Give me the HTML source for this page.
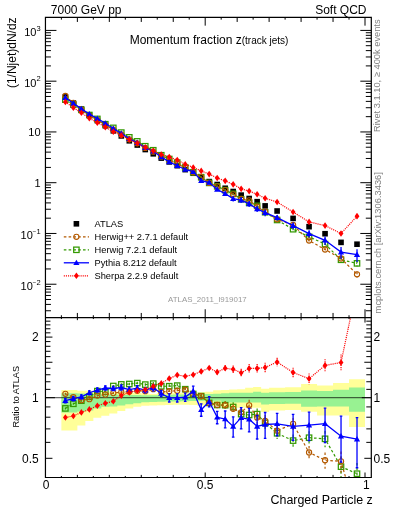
<!DOCTYPE html><html><head><meta charset="utf-8"><style>html,body{margin:0;padding:0;background:#fff;width:393px;height:512px;overflow:hidden}svg{display:block;will-change:transform}text{font-family:"Liberation Sans",sans-serif}</style></head><body>
<svg width="393" height="512" viewBox="0 0 393 512">
<rect width="393" height="512" fill="#fff"/>
<defs><clipPath id="cm"><rect x="45.45" y="17.35" width="325.85" height="300.2"/></clipPath>
<clipPath id="cr"><rect x="45.45" y="317.55" width="325.85" height="159.95"/></clipPath></defs>
<g clip-path="url(#cr)">
<path d="M61.38 390.1H69.37V430.6H61.38ZM69.37 390.1H77.36V430.6H69.37ZM77.36 390.7H85.35V425.5H77.36ZM85.35 390.7H93.34V421H85.35ZM93.34 391H101.33V417.8H93.34ZM101.33 391.5H109.32V415.8H101.33ZM109.32 391.8H117.31V413.4H109.32ZM117.31 392H125.3V411H117.31ZM125.3 392.5H133.29V408.5H125.3ZM133.29 393H141.28V406.8H133.29ZM141.28 393.5H149.27V405.8H141.28ZM149.27 394H157.26V405.4H149.27ZM157.26 393H165.25V405.2H157.26ZM165.25 392.9H173.24V405H165.25ZM173.24 392.8H181.23V404.8H173.24ZM181.23 392.8H189.22V404.8H181.23ZM189.22 392.6H197.21V405H189.22ZM197.21 392.2H205.2V405.5H197.21ZM205.2 391.7H213.19V405.5H205.2ZM213.19 390.3H221.18V405.5H213.19ZM221.18 390.1H229.17V407.7H221.18ZM229.17 389.5H237.16V407.7H229.17ZM237.16 389.2H245.15V407.7H237.16ZM245.15 387.8H253.14V407.7H245.15ZM253.14 386.9H261.13V407.7H253.14ZM261.13 388.7H269.12V412H261.13ZM269.12 387.8H285.1V410.5H269.12ZM285.1 387.2H301.08V410H285.1ZM301.08 384H317.06V411.7H301.08ZM317.06 385.5H333.04V415.5H317.06ZM333.04 383H349.02V415.5H333.04ZM349.02 379.2H365V427.1H349.02Z" fill="#ffff99"/>
<path d="M61.38 393.3H69.37V412.5H61.38ZM69.37 393.3H77.36V412.5H69.37ZM77.36 393.5H85.35V411.5H77.36ZM85.35 393.5H93.34V410.5H85.35ZM93.34 394H101.33V408.5H93.34ZM101.33 394.5H109.32V406.7H101.33ZM109.32 394.5H117.31V406.5H109.32ZM117.31 394.8H125.3V405.4H117.31ZM125.3 395H133.29V404.2H125.3ZM133.29 395H141.28V403.2H133.29ZM141.28 395.2H149.27V402.3H141.28ZM149.27 395.2H157.26V402H149.27ZM157.26 395.2H165.25V401.8H157.26ZM165.25 394.8H173.24V401.5H165.25ZM173.24 394.6H181.23V401.5H173.24ZM181.23 394.6H189.22V401.3H181.23ZM189.22 395H197.21V401H189.22ZM197.21 394.2H205.2V400.8H197.21ZM205.2 394H213.19V400.8H205.2ZM213.19 393.7H221.18V400.8H213.19ZM221.18 393.3H229.17V402.5H221.18ZM229.17 392.7H237.16V402.5H229.17ZM237.16 392.7H245.15V402.5H237.16ZM245.15 392.7H253.14V402.5H245.15ZM253.14 391.8H261.13V402.5H253.14ZM261.13 392.8H269.12V404.4H261.13ZM269.12 392.3H285.1V403.9H269.12ZM285.1 392.1H301.08V403.8H285.1ZM301.08 390.4H317.06V406.8H301.08ZM317.06 391H333.04V406.4H317.06ZM333.04 389.8H349.02V406.4H333.04ZM349.02 387.5H365V411.7H349.02Z" fill="#98f292"/>
<line x1="45.45" y1="397.7" x2="371.3" y2="397.7" stroke="#000" stroke-opacity="0.6" stroke-width="1.2"/>
<polyline points="65.38,408.4 73.37,403.8 81.36,400.7 89.34,396.7 97.34,391.1 105.33,391.6 113.31,386 121.31,384.4 129.3,384 137.28,383.1 145.28,384.6 153.27,383.6 161.26,386.3 169.25,386.2 177.24,385.6 185.23,389.2 193.22,394 201.21,396.1 209.19,402.9 217.19,405 225.18,405.2 233.17,407 241.16,414.1 249.15,415 257.14,414.1 265.12,422.9 277.11,433.3 293.09,440.6 309.07,437.7 325.05,438.8 341.03,466.7 357.01,473.7" fill="none" stroke="#339900" stroke-width="1.2" stroke-dasharray="2.6 2.2"/><path d="M65.38 407.4V409.41M73.37 402.8V404.81M81.36 399.7V401.71M89.34 395.7V397.71M97.34 390.1V392.11M105.33 390.6V392.61M113.31 385V387.01M121.31 383.15V385.67M129.3 382.75V385.27M137.28 381.85V384.37M145.28 383.35V385.87M153.27 382.1V385.13M161.26 384.8V387.83M169.25 384.2V388.25M177.24 383.6V387.65M185.23 387.2V391.25M193.22 391.5V396.57M201.21 393.1V399.21M209.19 400.4V405.47M217.19 402V408.11M225.18 401.2V409.39M233.17 402.25V412.02M241.16 409.1V419.4M249.15 409.5V420.87M257.14 408.6V419.97M265.12 416.9V429.34M277.11 428.05V438.89M293.09 434.6V447.04M309.07 431.2V444.72M325.05 431.05V447.3M341.03 456.7V477.99M357.01 462.95V485.96" fill="none" stroke="#339900" stroke-width="1.2" stroke-dasharray="2.6 2.2"/><rect x="62.67" y="405.7" width="5.4" height="5.4" fill="none" stroke="#339900" stroke-width="1.25"/><rect x="70.67" y="401.1" width="5.4" height="5.4" fill="none" stroke="#339900" stroke-width="1.25"/><rect x="78.66" y="398" width="5.4" height="5.4" fill="none" stroke="#339900" stroke-width="1.25"/><rect x="86.64" y="394" width="5.4" height="5.4" fill="none" stroke="#339900" stroke-width="1.25"/><rect x="94.64" y="388.4" width="5.4" height="5.4" fill="none" stroke="#339900" stroke-width="1.25"/><rect x="102.62" y="388.9" width="5.4" height="5.4" fill="none" stroke="#339900" stroke-width="1.25"/><rect x="110.61" y="383.3" width="5.4" height="5.4" fill="none" stroke="#339900" stroke-width="1.25"/><rect x="118.61" y="381.7" width="5.4" height="5.4" fill="none" stroke="#339900" stroke-width="1.25"/><rect x="126.6" y="381.3" width="5.4" height="5.4" fill="none" stroke="#339900" stroke-width="1.25"/><rect x="134.59" y="380.4" width="5.4" height="5.4" fill="none" stroke="#339900" stroke-width="1.25"/><rect x="142.58" y="381.9" width="5.4" height="5.4" fill="none" stroke="#339900" stroke-width="1.25"/><rect x="150.57" y="380.9" width="5.4" height="5.4" fill="none" stroke="#339900" stroke-width="1.25"/><rect x="158.56" y="383.6" width="5.4" height="5.4" fill="none" stroke="#339900" stroke-width="1.25"/><rect x="166.55" y="383.5" width="5.4" height="5.4" fill="none" stroke="#339900" stroke-width="1.25"/><rect x="174.54" y="382.9" width="5.4" height="5.4" fill="none" stroke="#339900" stroke-width="1.25"/><rect x="182.53" y="386.5" width="5.4" height="5.4" fill="none" stroke="#339900" stroke-width="1.25"/><rect x="190.52" y="391.3" width="5.4" height="5.4" fill="none" stroke="#339900" stroke-width="1.25"/><rect x="198.51" y="393.4" width="5.4" height="5.4" fill="none" stroke="#339900" stroke-width="1.25"/><rect x="206.5" y="400.2" width="5.4" height="5.4" fill="none" stroke="#339900" stroke-width="1.25"/><rect x="214.49" y="402.3" width="5.4" height="5.4" fill="none" stroke="#339900" stroke-width="1.25"/><rect x="222.48" y="402.5" width="5.4" height="5.4" fill="none" stroke="#339900" stroke-width="1.25"/><rect x="230.47" y="404.3" width="5.4" height="5.4" fill="none" stroke="#339900" stroke-width="1.25"/><rect x="238.46" y="411.4" width="5.4" height="5.4" fill="none" stroke="#339900" stroke-width="1.25"/><rect x="246.45" y="412.3" width="5.4" height="5.4" fill="none" stroke="#339900" stroke-width="1.25"/><rect x="254.44" y="411.4" width="5.4" height="5.4" fill="none" stroke="#339900" stroke-width="1.25"/><rect x="262.43" y="420.2" width="5.4" height="5.4" fill="none" stroke="#339900" stroke-width="1.25"/><rect x="274.41" y="430.6" width="5.4" height="5.4" fill="none" stroke="#339900" stroke-width="1.25"/><rect x="290.39" y="437.9" width="5.4" height="5.4" fill="none" stroke="#339900" stroke-width="1.25"/><rect x="306.37" y="435" width="5.4" height="5.4" fill="none" stroke="#339900" stroke-width="1.25"/><rect x="322.35" y="436.1" width="5.4" height="5.4" fill="none" stroke="#339900" stroke-width="1.25"/><rect x="338.33" y="464" width="5.4" height="5.4" fill="none" stroke="#339900" stroke-width="1.25"/><rect x="354.31" y="471" width="5.4" height="5.4" fill="none" stroke="#339900" stroke-width="1.25"/>
<polyline points="65.38,393.8 73.37,397.2 81.36,400.2 89.34,399.2 97.34,395.6 105.33,394.6 113.31,393.1 121.31,392.1 129.3,391.7 137.28,390.7 145.28,391.2 153.27,389.2 161.26,392 169.25,391.2 177.24,390.7 185.23,389.7 193.22,393.9 201.21,396.1 209.19,402.9 217.19,405 225.18,405.2 233.17,408.8 241.16,412.3 249.15,405.3 257.14,417.6 265.12,421 277.11,430.7 293.09,423.9 309.07,452.5 325.05,460.2 341.03,461.4 357.01,517.1" fill="none" stroke="#b35900" stroke-width="1.2" stroke-dasharray="2.6 2.2"/><path d="M65.38 392.8V394.81M73.37 396.2V398.21M81.36 399.2V401.21M89.34 398.2V400.21M97.34 394.6V396.61M105.33 393.6V395.61M113.31 392.1V394.11M121.31 390.85V393.37M129.3 390.45V392.97M137.28 389.45V391.97M145.28 389.95V392.47M153.27 387.7V390.73M161.26 390.5V393.53M169.25 389.2V393.25M177.24 388.7V392.75M185.23 387.7V391.75M193.22 391.4V396.47M201.21 393.1V399.21M209.19 400.4V405.47M217.19 402V408.11M225.18 401.2V409.39M233.17 404.05V413.82M241.16 407.3V417.6M249.15 399.8V411.17M257.14 412.1V423.47M265.12 415V427.44M277.11 425.45V436.29M293.09 417.9V430.34M309.07 446V459.52M325.05 452.45V468.7M341.03 451.4V472.69M357.01 506.35V529.36" fill="none" stroke="#b35900" stroke-width="1.2" stroke-dasharray="2.6 2.2"/><circle cx="65.38" cy="393.8" r="2.6" fill="none" stroke="#b35900" stroke-width="1.1"/><circle cx="73.37" cy="397.2" r="2.6" fill="none" stroke="#b35900" stroke-width="1.1"/><circle cx="81.36" cy="400.2" r="2.6" fill="none" stroke="#b35900" stroke-width="1.1"/><circle cx="89.34" cy="399.2" r="2.6" fill="none" stroke="#b35900" stroke-width="1.1"/><circle cx="97.34" cy="395.6" r="2.6" fill="none" stroke="#b35900" stroke-width="1.1"/><circle cx="105.33" cy="394.6" r="2.6" fill="none" stroke="#b35900" stroke-width="1.1"/><circle cx="113.31" cy="393.1" r="2.6" fill="none" stroke="#b35900" stroke-width="1.1"/><circle cx="121.31" cy="392.1" r="2.6" fill="none" stroke="#b35900" stroke-width="1.1"/><circle cx="129.3" cy="391.7" r="2.6" fill="none" stroke="#b35900" stroke-width="1.1"/><circle cx="137.28" cy="390.7" r="2.6" fill="none" stroke="#b35900" stroke-width="1.1"/><circle cx="145.28" cy="391.2" r="2.6" fill="none" stroke="#b35900" stroke-width="1.1"/><circle cx="153.27" cy="389.2" r="2.6" fill="none" stroke="#b35900" stroke-width="1.1"/><circle cx="161.26" cy="392" r="2.6" fill="none" stroke="#b35900" stroke-width="1.1"/><circle cx="169.25" cy="391.2" r="2.6" fill="none" stroke="#b35900" stroke-width="1.1"/><circle cx="177.24" cy="390.7" r="2.6" fill="none" stroke="#b35900" stroke-width="1.1"/><circle cx="185.23" cy="389.7" r="2.6" fill="none" stroke="#b35900" stroke-width="1.1"/><circle cx="193.22" cy="393.9" r="2.6" fill="none" stroke="#b35900" stroke-width="1.1"/><circle cx="201.21" cy="396.1" r="2.6" fill="none" stroke="#b35900" stroke-width="1.1"/><circle cx="209.19" cy="402.9" r="2.6" fill="none" stroke="#b35900" stroke-width="1.1"/><circle cx="217.19" cy="405" r="2.6" fill="none" stroke="#b35900" stroke-width="1.1"/><circle cx="225.18" cy="405.2" r="2.6" fill="none" stroke="#b35900" stroke-width="1.1"/><circle cx="233.17" cy="408.8" r="2.6" fill="none" stroke="#b35900" stroke-width="1.1"/><circle cx="241.16" cy="412.3" r="2.6" fill="none" stroke="#b35900" stroke-width="1.1"/><circle cx="249.15" cy="405.3" r="2.6" fill="none" stroke="#b35900" stroke-width="1.1"/><circle cx="257.14" cy="417.6" r="2.6" fill="none" stroke="#b35900" stroke-width="1.1"/><circle cx="265.12" cy="421" r="2.6" fill="none" stroke="#b35900" stroke-width="1.1"/><circle cx="277.11" cy="430.7" r="2.6" fill="none" stroke="#b35900" stroke-width="1.1"/><circle cx="293.09" cy="423.9" r="2.6" fill="none" stroke="#b35900" stroke-width="1.1"/><circle cx="309.07" cy="452.5" r="2.6" fill="none" stroke="#b35900" stroke-width="1.1"/><circle cx="325.05" cy="460.2" r="2.6" fill="none" stroke="#b35900" stroke-width="1.1"/><circle cx="341.03" cy="461.4" r="2.6" fill="none" stroke="#b35900" stroke-width="1.1"/><circle cx="357.01" cy="517.1" r="2.6" fill="none" stroke="#b35900" stroke-width="1.1"/>
<polyline points="65.38,400.7 73.37,398.7 81.36,396.9 89.34,392.8 97.34,390 105.33,388 113.31,388.5 121.31,387.5 129.3,389.7 137.28,388.2 145.28,390.2 153.27,387.7 161.26,393.5 169.25,397.8 177.24,397.8 185.23,397.1 193.22,391.2 201.21,409.8 209.19,401.6 217.19,417.3 225.18,419 233.17,426.4 241.16,417.6 249.15,419.3 257.14,426.4 265.12,424.5 277.11,423.8 293.09,426.4 309.07,425.2 325.05,423.7 341.03,436.2 357.01,439.2" fill="none" stroke="#0000ff" stroke-width="1.3"/><path d="M65.38 398.7V402.75M73.37 396.7V400.75M81.36 394.9V398.95M89.34 390.8V394.85M97.34 388V392.05M105.33 386V390.05M113.31 386.5V390.55M121.31 385V390.07M129.3 387.2V392.27M137.28 385.7V390.77M145.28 387.7V392.77M153.27 384.7V390.81M161.26 390.5V396.61M169.25 393.8V401.99M177.24 393.8V401.99M185.23 393.1V401.29M193.22 386.2V396.5M201.21 403.8V416.24M209.19 396.6V406.9M217.19 411.3V423.74M225.18 411V427.81M233.17 416.9V437.06M241.16 407.6V428.89M249.15 408.3V431.89M257.14 415.4V438.99M265.12 412.5V438.41M277.11 413.3V435.74M293.09 414.4V440.31M309.07 412.2V440.48M325.05 408.2V442.55M341.03 416.2V462.18M357.01 417.7V467.77" fill="none" stroke="#0000ff" stroke-width="1.3"/><path d="M64.08 398.7h2.6M64.08 402.75h2.6M72.07 396.7h2.6M72.07 400.75h2.6M80.06 394.9h2.6M80.06 398.95h2.6M88.05 390.8h2.6M88.05 394.85h2.6M96.04 388h2.6M96.04 392.05h2.6M104.03 386h2.6M104.03 390.05h2.6M112.02 386.5h2.6M112.02 390.55h2.6M120.01 385h2.6M120.01 390.07h2.6M128 387.2h2.6M128 392.27h2.6M135.98 385.7h2.6M135.98 390.77h2.6M143.97 387.7h2.6M143.97 392.77h2.6M151.97 384.7h2.6M151.97 390.81h2.6M159.96 390.5h2.6M159.96 396.61h2.6M167.94 393.8h2.6M167.94 401.99h2.6M175.94 393.8h2.6M175.94 401.99h2.6M183.93 393.1h2.6M183.93 401.29h2.6M191.92 386.2h2.6M191.92 396.5h2.6M199.91 403.8h2.6M199.91 416.24h2.6M207.89 396.6h2.6M207.89 406.9h2.6M215.89 411.3h2.6M215.89 423.74h2.6M223.88 411h2.6M223.88 427.81h2.6M231.87 416.9h2.6M231.87 437.06h2.6M239.86 407.6h2.6M239.86 428.89h2.6M247.85 408.3h2.6M247.85 431.89h2.6M255.84 415.4h2.6M255.84 438.99h2.6M263.82 412.5h2.6M263.82 438.41h2.6M275.81 413.3h2.6M275.81 435.74h2.6M291.79 414.4h2.6M291.79 440.31h2.6M307.77 412.2h2.6M307.77 440.48h2.6M323.75 408.2h2.6M323.75 442.55h2.6M339.73 416.2h2.6M339.73 462.18h2.6M355.71 417.7h2.6M355.71 467.77h2.6" fill="none" stroke="#0000ff" stroke-width="1.3"/><path d="M65.38 397.6L68.47 403L62.27 403Z" fill="#0000ff"/><path d="M73.37 395.6L76.47 401L70.27 401Z" fill="#0000ff"/><path d="M81.36 393.8L84.45 399.2L78.26 399.2Z" fill="#0000ff"/><path d="M89.34 389.7L92.44 395.1L86.25 395.1Z" fill="#0000ff"/><path d="M97.34 386.9L100.44 392.3L94.24 392.3Z" fill="#0000ff"/><path d="M105.33 384.9L108.42 390.3L102.23 390.3Z" fill="#0000ff"/><path d="M113.31 385.4L116.41 390.8L110.22 390.8Z" fill="#0000ff"/><path d="M121.31 384.4L124.41 389.8L118.21 389.8Z" fill="#0000ff"/><path d="M129.3 386.6L132.4 392L126.2 392Z" fill="#0000ff"/><path d="M137.28 385.1L140.38 390.5L134.19 390.5Z" fill="#0000ff"/><path d="M145.28 387.1L148.38 392.5L142.18 392.5Z" fill="#0000ff"/><path d="M153.27 384.6L156.37 390L150.17 390Z" fill="#0000ff"/><path d="M161.26 390.4L164.36 395.8L158.16 395.8Z" fill="#0000ff"/><path d="M169.25 394.7L172.34 400.1L166.15 400.1Z" fill="#0000ff"/><path d="M177.24 394.7L180.34 400.1L174.14 400.1Z" fill="#0000ff"/><path d="M185.23 394L188.33 399.4L182.13 399.4Z" fill="#0000ff"/><path d="M193.22 388.1L196.32 393.5L190.12 393.5Z" fill="#0000ff"/><path d="M201.21 406.7L204.31 412.1L198.11 412.1Z" fill="#0000ff"/><path d="M209.19 398.5L212.29 403.9L206.09 403.9Z" fill="#0000ff"/><path d="M217.19 414.2L220.29 419.6L214.09 419.6Z" fill="#0000ff"/><path d="M225.18 415.9L228.28 421.3L222.08 421.3Z" fill="#0000ff"/><path d="M233.17 423.3L236.27 428.7L230.07 428.7Z" fill="#0000ff"/><path d="M241.16 414.5L244.26 419.9L238.06 419.9Z" fill="#0000ff"/><path d="M249.15 416.2L252.25 421.6L246.05 421.6Z" fill="#0000ff"/><path d="M257.14 423.3L260.24 428.7L254.04 428.7Z" fill="#0000ff"/><path d="M265.12 421.4L268.23 426.8L262.02 426.8Z" fill="#0000ff"/><path d="M277.11 420.7L280.21 426.1L274.01 426.1Z" fill="#0000ff"/><path d="M293.09 423.3L296.19 428.7L289.99 428.7Z" fill="#0000ff"/><path d="M309.07 422.1L312.17 427.5L305.97 427.5Z" fill="#0000ff"/><path d="M325.05 420.6L328.15 426L321.95 426Z" fill="#0000ff"/><path d="M341.03 433.1L344.13 438.5L337.93 438.5Z" fill="#0000ff"/><path d="M357.01 436.1L360.11 441.5L353.91 441.5Z" fill="#0000ff"/>
<polyline points="65.38,417.5 73.37,416 81.36,412.4 89.34,409.4 97.34,405.8 105.33,403.3 113.31,401.2 121.31,395.6 129.3,392.4 137.28,390.7 145.28,389.7 153.27,386.2 161.26,383.4 169.25,378.5 177.24,375 185.23,376.3 193.22,374.7 201.21,371.4 209.19,368 217.19,372.1 225.18,368.3 233.17,369.3 241.16,372.8 249.15,368.4 257.14,368.4 265.12,367.5 277.11,362 293.09,372.5 309.07,378.7 325.05,365.4 341.03,362.5 357.01,286.5" fill="none" stroke="#ff0000" stroke-width="1.2" stroke-dasharray="1.1 1"/><path d="M65.38 416.7V418.31M73.37 415.2V416.81M81.36 411.6V413.21M89.34 408.6V410.21M97.34 405V406.61M105.33 402.5V404.11M113.31 400.4V402.01M121.31 394.6V396.61M129.3 391.4V393.41M137.28 389.7V391.71M145.28 388.7V390.71M153.27 385V387.42M161.26 382.2V384.62M169.25 376.9V380.13M177.24 373.4V376.63M185.23 374.7V377.93M193.22 372.7V376.75M201.21 369V373.87M209.19 366V370.05M217.19 369.7V374.57M225.18 365.1V371.62M233.17 365.5V373.27M241.16 368.8V376.99M249.15 364V373.03M257.14 364V373.03M265.12 362.7V372.58M277.11 357.8V366.41M293.09 367.7V377.58M309.07 373.5V384.23M325.05 359.2V372.07M341.03 354.5V371.31M357.01 277.9V296.04" fill="none" stroke="#ff0000" stroke-width="1.2" stroke-dasharray="1.1 1"/><path d="M65.38 414.2L67.78 417.5L65.38 420.8L62.98 417.5Z" fill="#ff0000"/><path d="M73.37 412.7L75.77 416L73.37 419.3L70.97 416Z" fill="#ff0000"/><path d="M81.36 409.1L83.76 412.4L81.36 415.7L78.95 412.4Z" fill="#ff0000"/><path d="M89.34 406.1L91.75 409.4L89.34 412.7L86.94 409.4Z" fill="#ff0000"/><path d="M97.34 402.5L99.74 405.8L97.34 409.1L94.94 405.8Z" fill="#ff0000"/><path d="M105.33 400L107.73 403.3L105.33 406.6L102.92 403.3Z" fill="#ff0000"/><path d="M113.31 397.9L115.72 401.2L113.31 404.5L110.91 401.2Z" fill="#ff0000"/><path d="M121.31 392.3L123.71 395.6L121.31 398.9L118.91 395.6Z" fill="#ff0000"/><path d="M129.3 389.1L131.7 392.4L129.3 395.7L126.9 392.4Z" fill="#ff0000"/><path d="M137.28 387.4L139.69 390.7L137.28 394L134.88 390.7Z" fill="#ff0000"/><path d="M145.28 386.4L147.68 389.7L145.28 393L142.88 389.7Z" fill="#ff0000"/><path d="M153.27 382.9L155.67 386.2L153.27 389.5L150.87 386.2Z" fill="#ff0000"/><path d="M161.26 380.1L163.66 383.4L161.26 386.7L158.86 383.4Z" fill="#ff0000"/><path d="M169.25 375.2L171.65 378.5L169.25 381.8L166.84 378.5Z" fill="#ff0000"/><path d="M177.24 371.7L179.64 375L177.24 378.3L174.84 375Z" fill="#ff0000"/><path d="M185.23 373L187.63 376.3L185.23 379.6L182.83 376.3Z" fill="#ff0000"/><path d="M193.22 371.4L195.62 374.7L193.22 378L190.82 374.7Z" fill="#ff0000"/><path d="M201.21 368.1L203.61 371.4L201.21 374.7L198.81 371.4Z" fill="#ff0000"/><path d="M209.19 364.7L211.59 368L209.19 371.3L206.79 368Z" fill="#ff0000"/><path d="M217.19 368.8L219.59 372.1L217.19 375.4L214.79 372.1Z" fill="#ff0000"/><path d="M225.18 365L227.58 368.3L225.18 371.6L222.78 368.3Z" fill="#ff0000"/><path d="M233.17 366L235.57 369.3L233.17 372.6L230.77 369.3Z" fill="#ff0000"/><path d="M241.16 369.5L243.56 372.8L241.16 376.1L238.76 372.8Z" fill="#ff0000"/><path d="M249.15 365.1L251.55 368.4L249.15 371.7L246.75 368.4Z" fill="#ff0000"/><path d="M257.14 365.1L259.54 368.4L257.14 371.7L254.74 368.4Z" fill="#ff0000"/><path d="M265.12 364.2L267.52 367.5L265.12 370.8L262.73 367.5Z" fill="#ff0000"/><path d="M277.11 358.7L279.51 362L277.11 365.3L274.71 362Z" fill="#ff0000"/><path d="M293.09 369.2L295.49 372.5L293.09 375.8L290.69 372.5Z" fill="#ff0000"/><path d="M309.07 375.4L311.47 378.7L309.07 382L306.67 378.7Z" fill="#ff0000"/><path d="M325.05 362.1L327.45 365.4L325.05 368.7L322.65 365.4Z" fill="#ff0000"/><path d="M341.03 359.2L343.43 362.5L341.03 365.8L338.63 362.5Z" fill="#ff0000"/><path d="M357.01 283.2L359.41 286.5L357.01 289.8L354.61 286.5Z" fill="#ff0000"/>
</g>
<g clip-path="url(#cm)">
<rect x="62.58" y="94.15" width="5.6" height="5.6" fill="#000"/>
<rect x="70.57" y="100.28" width="5.6" height="5.6" fill="#000"/>
<rect x="78.56" y="106.3" width="5.6" height="5.6" fill="#000"/>
<rect x="86.55" y="112.48" width="5.6" height="5.6" fill="#000"/>
<rect x="94.54" y="117.79" width="5.6" height="5.6" fill="#000"/>
<rect x="102.53" y="122.95" width="5.6" height="5.6" fill="#000"/>
<rect x="110.52" y="128.02" width="5.6" height="5.6" fill="#000"/>
<rect x="118.51" y="133.13" width="5.6" height="5.6" fill="#000"/>
<rect x="126.5" y="137.99" width="5.6" height="5.6" fill="#000"/>
<rect x="134.48" y="142.24" width="5.6" height="5.6" fill="#000"/>
<rect x="142.47" y="146.75" width="5.6" height="5.6" fill="#000"/>
<rect x="150.47" y="151" width="5.6" height="5.6" fill="#000"/>
<rect x="158.46" y="155.3" width="5.6" height="5.6" fill="#000"/>
<rect x="166.44" y="159.1" width="5.6" height="5.6" fill="#000"/>
<rect x="174.44" y="162.89" width="5.6" height="5.6" fill="#000"/>
<rect x="182.43" y="166.84" width="5.6" height="5.6" fill="#000"/>
<rect x="190.42" y="170.44" width="5.6" height="5.6" fill="#000"/>
<rect x="198.41" y="174.74" width="5.6" height="5.6" fill="#000"/>
<rect x="206.39" y="178.79" width="5.6" height="5.6" fill="#000"/>
<rect x="214.39" y="181.72" width="5.6" height="5.6" fill="#000"/>
<rect x="222.38" y="185.47" width="5.6" height="5.6" fill="#000"/>
<rect x="230.37" y="188.71" width="5.6" height="5.6" fill="#000"/>
<rect x="238.36" y="192.3" width="5.6" height="5.6" fill="#000"/>
<rect x="246.35" y="195.7" width="5.6" height="5.6" fill="#000"/>
<rect x="254.34" y="198.88" width="5.6" height="5.6" fill="#000"/>
<rect x="262.32" y="203.09" width="5.6" height="5.6" fill="#000"/>
<rect x="274.31" y="208.2" width="5.6" height="5.6" fill="#000"/>
<rect x="290.29" y="215.59" width="5.6" height="5.6" fill="#000"/>
<rect x="306.27" y="223.89" width="5.6" height="5.6" fill="#000"/>
<rect x="322.25" y="230.93" width="5.6" height="5.6" fill="#000"/>
<rect x="338.23" y="239.58" width="5.6" height="5.6" fill="#000"/>
<rect x="354.21" y="241.41" width="5.6" height="5.6" fill="#000"/>
<polyline points="65.38,99.65 73.37,104.62 81.36,109.86 89.34,115.02 97.34,118.93 105.33,124.22 113.31,127.87 121.31,132.58 129.3,137.33 137.28,141.36 145.28,146.24 153.27,150.24 161.26,155.23 169.25,159 177.24,162.64 185.23,167.5 193.22,172.3 201.21,177.14 209.19,182.9 217.19,186.37 225.18,190.16 233.17,193.86 241.16,199.24 249.15,202.86 257.14,205.82 265.12,212.24 277.11,219.98 293.09,229.21 309.07,236.78 325.05,244.09 341.03,259.78 357.01,263.37" fill="none" stroke="#339900" stroke-width="1.2" stroke-dasharray="2.6 2.2"/><path d="M65.38 99.4V99.91M73.37 104.36V104.87M81.36 109.61V110.11M89.34 114.77V115.28M97.34 118.68V119.18M105.33 123.96V124.47M113.31 127.61V128.12M121.31 132.26V132.9M129.3 137.02V137.65M137.28 141.04V141.68M145.28 145.93V146.56M153.27 149.86V150.63M161.26 154.85V155.61M169.25 158.49V159.51M177.24 162.14V163.16M185.23 166.99V168.02M193.22 171.67V172.95M201.21 176.38V177.92M209.19 182.27V183.55M217.19 185.61V187.15M225.18 189.15V191.22M233.17 192.66V195.12M241.16 197.98V200.58M249.15 201.47V204.34M257.14 204.43V207.3M265.12 210.73V213.87M277.11 218.65V221.38M293.09 227.69V230.83M309.07 235.14V238.55M325.05 242.14V246.24M341.03 257.26V262.63M357.01 260.66V266.46" fill="none" stroke="#339900" stroke-width="1.2" stroke-dasharray="2.6 2.2"/><rect x="62.67" y="96.95" width="5.4" height="5.4" fill="none" stroke="#339900" stroke-width="1.25"/><rect x="70.67" y="101.92" width="5.4" height="5.4" fill="none" stroke="#339900" stroke-width="1.25"/><rect x="78.66" y="107.16" width="5.4" height="5.4" fill="none" stroke="#339900" stroke-width="1.25"/><rect x="86.64" y="112.32" width="5.4" height="5.4" fill="none" stroke="#339900" stroke-width="1.25"/><rect x="94.64" y="116.23" width="5.4" height="5.4" fill="none" stroke="#339900" stroke-width="1.25"/><rect x="102.62" y="121.52" width="5.4" height="5.4" fill="none" stroke="#339900" stroke-width="1.25"/><rect x="110.61" y="125.17" width="5.4" height="5.4" fill="none" stroke="#339900" stroke-width="1.25"/><rect x="118.61" y="129.88" width="5.4" height="5.4" fill="none" stroke="#339900" stroke-width="1.25"/><rect x="126.6" y="134.63" width="5.4" height="5.4" fill="none" stroke="#339900" stroke-width="1.25"/><rect x="134.59" y="138.66" width="5.4" height="5.4" fill="none" stroke="#339900" stroke-width="1.25"/><rect x="142.58" y="143.54" width="5.4" height="5.4" fill="none" stroke="#339900" stroke-width="1.25"/><rect x="150.57" y="147.54" width="5.4" height="5.4" fill="none" stroke="#339900" stroke-width="1.25"/><rect x="158.56" y="152.53" width="5.4" height="5.4" fill="none" stroke="#339900" stroke-width="1.25"/><rect x="166.55" y="156.3" width="5.4" height="5.4" fill="none" stroke="#339900" stroke-width="1.25"/><rect x="174.54" y="159.94" width="5.4" height="5.4" fill="none" stroke="#339900" stroke-width="1.25"/><rect x="182.53" y="164.8" width="5.4" height="5.4" fill="none" stroke="#339900" stroke-width="1.25"/><rect x="190.52" y="169.6" width="5.4" height="5.4" fill="none" stroke="#339900" stroke-width="1.25"/><rect x="198.51" y="174.44" width="5.4" height="5.4" fill="none" stroke="#339900" stroke-width="1.25"/><rect x="206.5" y="180.2" width="5.4" height="5.4" fill="none" stroke="#339900" stroke-width="1.25"/><rect x="214.49" y="183.67" width="5.4" height="5.4" fill="none" stroke="#339900" stroke-width="1.25"/><rect x="222.48" y="187.46" width="5.4" height="5.4" fill="none" stroke="#339900" stroke-width="1.25"/><rect x="230.47" y="191.16" width="5.4" height="5.4" fill="none" stroke="#339900" stroke-width="1.25"/><rect x="238.46" y="196.54" width="5.4" height="5.4" fill="none" stroke="#339900" stroke-width="1.25"/><rect x="246.45" y="200.16" width="5.4" height="5.4" fill="none" stroke="#339900" stroke-width="1.25"/><rect x="254.44" y="203.12" width="5.4" height="5.4" fill="none" stroke="#339900" stroke-width="1.25"/><rect x="262.43" y="209.54" width="5.4" height="5.4" fill="none" stroke="#339900" stroke-width="1.25"/><rect x="274.41" y="217.28" width="5.4" height="5.4" fill="none" stroke="#339900" stroke-width="1.25"/><rect x="290.39" y="226.51" width="5.4" height="5.4" fill="none" stroke="#339900" stroke-width="1.25"/><rect x="306.37" y="234.08" width="5.4" height="5.4" fill="none" stroke="#339900" stroke-width="1.25"/><rect x="322.35" y="241.39" width="5.4" height="5.4" fill="none" stroke="#339900" stroke-width="1.25"/><rect x="338.33" y="257.08" width="5.4" height="5.4" fill="none" stroke="#339900" stroke-width="1.25"/><rect x="354.31" y="260.67" width="5.4" height="5.4" fill="none" stroke="#339900" stroke-width="1.25"/>
<polyline points="65.38,95.97 73.37,102.95 81.36,109.73 89.34,115.65 97.34,120.06 105.33,124.97 113.31,129.66 121.31,134.52 129.3,139.28 137.28,143.28 145.28,147.91 153.27,151.66 161.26,156.66 169.25,160.26 177.24,163.93 185.23,167.63 193.22,172.28 201.21,177.14 209.19,182.9 217.19,186.37 225.18,190.16 233.17,194.31 241.16,198.79 249.15,200.41 257.14,206.7 265.12,211.76 277.11,219.32 293.09,225 309.07,240.51 325.05,249.49 341.03,258.45 357.01,274.31" fill="none" stroke="#b35900" stroke-width="1.2" stroke-dasharray="2.6 2.2"/><path d="M65.38 95.72V96.22M73.37 102.7V103.21M81.36 109.48V109.99M89.34 115.4V115.91M97.34 119.81V120.32M105.33 124.72V125.23M113.31 129.4V129.91M121.31 134.2V134.84M129.3 138.96V139.6M137.28 142.96V143.6M145.28 147.59V148.23M153.27 151.28V152.04M161.26 156.29V157.05M169.25 159.75V160.77M177.24 163.42V164.45M185.23 167.12V168.14M193.22 171.65V172.93M201.21 176.38V177.92M209.19 182.27V183.55M217.19 185.61V187.15M225.18 189.15V191.22M233.17 193.11V195.58M241.16 197.53V200.12M249.15 199.03V201.89M257.14 205.32V208.18M265.12 210.25V213.39M277.11 218V220.73M293.09 223.48V226.62M309.07 238.87V242.28M325.05 247.53V251.63M341.03 255.92V261.29M357.01 271.6V277.41" fill="none" stroke="#b35900" stroke-width="1.2" stroke-dasharray="2.6 2.2"/><circle cx="65.38" cy="95.97" r="2.6" fill="none" stroke="#b35900" stroke-width="1.1"/><circle cx="73.37" cy="102.95" r="2.6" fill="none" stroke="#b35900" stroke-width="1.1"/><circle cx="81.36" cy="109.73" r="2.6" fill="none" stroke="#b35900" stroke-width="1.1"/><circle cx="89.34" cy="115.65" r="2.6" fill="none" stroke="#b35900" stroke-width="1.1"/><circle cx="97.34" cy="120.06" r="2.6" fill="none" stroke="#b35900" stroke-width="1.1"/><circle cx="105.33" cy="124.97" r="2.6" fill="none" stroke="#b35900" stroke-width="1.1"/><circle cx="113.31" cy="129.66" r="2.6" fill="none" stroke="#b35900" stroke-width="1.1"/><circle cx="121.31" cy="134.52" r="2.6" fill="none" stroke="#b35900" stroke-width="1.1"/><circle cx="129.3" cy="139.28" r="2.6" fill="none" stroke="#b35900" stroke-width="1.1"/><circle cx="137.28" cy="143.28" r="2.6" fill="none" stroke="#b35900" stroke-width="1.1"/><circle cx="145.28" cy="147.91" r="2.6" fill="none" stroke="#b35900" stroke-width="1.1"/><circle cx="153.27" cy="151.66" r="2.6" fill="none" stroke="#b35900" stroke-width="1.1"/><circle cx="161.26" cy="156.66" r="2.6" fill="none" stroke="#b35900" stroke-width="1.1"/><circle cx="169.25" cy="160.26" r="2.6" fill="none" stroke="#b35900" stroke-width="1.1"/><circle cx="177.24" cy="163.93" r="2.6" fill="none" stroke="#b35900" stroke-width="1.1"/><circle cx="185.23" cy="167.63" r="2.6" fill="none" stroke="#b35900" stroke-width="1.1"/><circle cx="193.22" cy="172.28" r="2.6" fill="none" stroke="#b35900" stroke-width="1.1"/><circle cx="201.21" cy="177.14" r="2.6" fill="none" stroke="#b35900" stroke-width="1.1"/><circle cx="209.19" cy="182.9" r="2.6" fill="none" stroke="#b35900" stroke-width="1.1"/><circle cx="217.19" cy="186.37" r="2.6" fill="none" stroke="#b35900" stroke-width="1.1"/><circle cx="225.18" cy="190.16" r="2.6" fill="none" stroke="#b35900" stroke-width="1.1"/><circle cx="233.17" cy="194.31" r="2.6" fill="none" stroke="#b35900" stroke-width="1.1"/><circle cx="241.16" cy="198.79" r="2.6" fill="none" stroke="#b35900" stroke-width="1.1"/><circle cx="249.15" cy="200.41" r="2.6" fill="none" stroke="#b35900" stroke-width="1.1"/><circle cx="257.14" cy="206.7" r="2.6" fill="none" stroke="#b35900" stroke-width="1.1"/><circle cx="265.12" cy="211.76" r="2.6" fill="none" stroke="#b35900" stroke-width="1.1"/><circle cx="277.11" cy="219.32" r="2.6" fill="none" stroke="#b35900" stroke-width="1.1"/><circle cx="293.09" cy="225" r="2.6" fill="none" stroke="#b35900" stroke-width="1.1"/><circle cx="309.07" cy="240.51" r="2.6" fill="none" stroke="#b35900" stroke-width="1.1"/><circle cx="325.05" cy="249.49" r="2.6" fill="none" stroke="#b35900" stroke-width="1.1"/><circle cx="341.03" cy="258.45" r="2.6" fill="none" stroke="#b35900" stroke-width="1.1"/><circle cx="357.01" cy="274.31" r="2.6" fill="none" stroke="#b35900" stroke-width="1.1"/>
<polyline points="65.38,97.71 73.37,103.33 81.36,108.9 89.34,114.04 97.34,118.65 105.33,123.31 113.31,128.5 121.31,133.36 129.3,138.77 137.28,142.65 145.28,147.66 153.27,151.28 161.26,157.04 169.25,161.92 177.24,165.72 185.23,169.49 193.22,171.6 201.21,180.59 209.19,182.57 217.19,189.47 225.18,193.64 233.17,198.75 241.16,200.12 249.15,203.94 257.14,208.92 265.12,212.64 277.11,217.58 293.09,225.63 309.07,233.63 325.05,240.28 341.03,252.09 357.01,254.67" fill="none" stroke="#0000ff" stroke-width="1.3"/><path d="M65.38 97.2V98.22M73.37 102.83V103.85M81.36 108.39V109.42M89.34 113.54V114.56M97.34 118.15V119.17M105.33 122.8V123.83M113.31 127.99V129.01M121.31 132.73V134.01M129.3 138.14V139.42M137.28 142.02V143.29M145.28 147.02V148.3M153.27 150.52V152.06M161.26 156.29V157.83M169.25 160.91V162.98M177.24 164.71V166.78M185.23 168.48V170.55M193.22 170.34V172.93M201.21 179.08V182.21M209.19 181.31V183.91M217.19 187.95V191.09M225.18 191.62V195.86M233.17 196.35V201.44M241.16 197.6V202.97M249.15 201.17V207.12M257.14 206.15V212.1M265.12 209.62V216.15M277.11 214.93V220.59M293.09 222.6V229.13M309.07 230.35V237.48M325.05 236.38V245.04M341.03 247.05V258.64M357.01 249.25V261.88" fill="none" stroke="#0000ff" stroke-width="1.3"/><path d="M65.38 94.61L68.47 100.01L62.27 100.01Z" fill="#0000ff"/><path d="M73.37 100.23L76.47 105.63L70.27 105.63Z" fill="#0000ff"/><path d="M81.36 105.8L84.45 111.2L78.26 111.2Z" fill="#0000ff"/><path d="M89.34 110.94L92.44 116.34L86.25 116.34Z" fill="#0000ff"/><path d="M97.34 115.55L100.44 120.95L94.24 120.95Z" fill="#0000ff"/><path d="M105.33 120.21L108.42 125.61L102.23 125.61Z" fill="#0000ff"/><path d="M113.31 125.4L116.41 130.8L110.22 130.8Z" fill="#0000ff"/><path d="M121.31 130.26L124.41 135.66L118.21 135.66Z" fill="#0000ff"/><path d="M129.3 135.67L132.4 141.07L126.2 141.07Z" fill="#0000ff"/><path d="M137.28 139.55L140.38 144.95L134.19 144.95Z" fill="#0000ff"/><path d="M145.28 144.56L148.38 149.96L142.18 149.96Z" fill="#0000ff"/><path d="M153.27 148.18L156.37 153.58L150.17 153.58Z" fill="#0000ff"/><path d="M161.26 153.94L164.36 159.34L158.16 159.34Z" fill="#0000ff"/><path d="M169.25 158.82L172.34 164.22L166.15 164.22Z" fill="#0000ff"/><path d="M177.24 162.62L180.34 168.02L174.14 168.02Z" fill="#0000ff"/><path d="M185.23 166.39L188.33 171.79L182.13 171.79Z" fill="#0000ff"/><path d="M193.22 168.5L196.32 173.9L190.12 173.9Z" fill="#0000ff"/><path d="M201.21 177.49L204.31 182.89L198.11 182.89Z" fill="#0000ff"/><path d="M209.19 179.47L212.29 184.87L206.09 184.87Z" fill="#0000ff"/><path d="M217.19 186.37L220.29 191.77L214.09 191.77Z" fill="#0000ff"/><path d="M225.18 190.54L228.28 195.94L222.08 195.94Z" fill="#0000ff"/><path d="M233.17 195.65L236.27 201.05L230.07 201.05Z" fill="#0000ff"/><path d="M241.16 197.02L244.26 202.42L238.06 202.42Z" fill="#0000ff"/><path d="M249.15 200.84L252.25 206.24L246.05 206.24Z" fill="#0000ff"/><path d="M257.14 205.82L260.24 211.22L254.04 211.22Z" fill="#0000ff"/><path d="M265.12 209.54L268.23 214.94L262.02 214.94Z" fill="#0000ff"/><path d="M277.11 214.48L280.21 219.88L274.01 219.88Z" fill="#0000ff"/><path d="M293.09 222.53L296.19 227.93L289.99 227.93Z" fill="#0000ff"/><path d="M309.07 230.53L312.17 235.93L305.97 235.93Z" fill="#0000ff"/><path d="M325.05 237.18L328.15 242.58L321.95 242.58Z" fill="#0000ff"/><path d="M341.03 248.99L344.13 254.39L337.93 254.39Z" fill="#0000ff"/><path d="M357.01 251.57L360.11 256.97L353.91 256.97Z" fill="#0000ff"/>
<polyline points="65.38,101.94 73.37,107.69 81.36,112.81 89.34,118.23 97.34,122.63 105.33,127.17 113.31,131.7 121.31,135.4 129.3,139.45 137.28,143.28 145.28,147.53 153.27,150.9 161.26,154.5 169.25,157.06 177.24,159.97 185.23,164.25 193.22,167.44 201.21,170.91 209.19,174.1 217.19,178.07 225.18,180.86 233.17,184.35 241.16,188.83 249.15,191.11 257.14,194.3 265.12,198.27 277.11,202 293.09,212.04 309.07,221.9 325.05,225.58 341.03,233.51 357.01,216.17" fill="none" stroke="#ff0000" stroke-width="1.2" stroke-dasharray="1.1 1"/><path d="M65.38 101.74V102.15M73.37 107.49V107.9M81.36 112.61V113.01M89.34 118.03V118.43M97.34 122.43V122.84M105.33 126.97V127.37M113.31 131.5V131.9M121.31 135.15V135.66M129.3 139.2V139.71M137.28 143.02V143.53M145.28 147.28V147.78M153.27 150.6V151.21M161.26 154.19V154.8M169.25 156.65V157.47M177.24 159.57V160.38M185.23 163.84V164.66M193.22 166.93V167.95M201.21 170.3V171.53M209.19 173.6V174.62M217.19 177.46V178.69M225.18 180.05V181.69M233.17 183.39V185.35M241.16 187.82V189.88M249.15 190V192.28M257.14 193.19V195.46M265.12 197.06V199.55M277.11 200.94V203.11M293.09 210.82V213.32M309.07 220.59V223.29M325.05 224.02V227.27M341.03 231.49V235.73M357.01 214V218.57" fill="none" stroke="#ff0000" stroke-width="1.2" stroke-dasharray="1.1 1"/><path d="M65.38 98.64L67.78 101.94L65.38 105.24L62.98 101.94Z" fill="#ff0000"/><path d="M73.37 104.39L75.77 107.69L73.37 110.99L70.97 107.69Z" fill="#ff0000"/><path d="M81.36 109.51L83.76 112.81L81.36 116.11L78.95 112.81Z" fill="#ff0000"/><path d="M89.34 114.93L91.75 118.23L89.34 121.53L86.94 118.23Z" fill="#ff0000"/><path d="M97.34 119.33L99.74 122.63L97.34 125.93L94.94 122.63Z" fill="#ff0000"/><path d="M105.33 123.87L107.73 127.17L105.33 130.47L102.92 127.17Z" fill="#ff0000"/><path d="M113.31 128.4L115.72 131.7L113.31 135L110.91 131.7Z" fill="#ff0000"/><path d="M121.31 132.1L123.71 135.4L121.31 138.7L118.91 135.4Z" fill="#ff0000"/><path d="M129.3 136.15L131.7 139.45L129.3 142.75L126.9 139.45Z" fill="#ff0000"/><path d="M137.28 139.98L139.69 143.28L137.28 146.58L134.88 143.28Z" fill="#ff0000"/><path d="M145.28 144.23L147.68 147.53L145.28 150.83L142.88 147.53Z" fill="#ff0000"/><path d="M153.27 147.6L155.67 150.9L153.27 154.2L150.87 150.9Z" fill="#ff0000"/><path d="M161.26 151.2L163.66 154.5L161.26 157.8L158.86 154.5Z" fill="#ff0000"/><path d="M169.25 153.76L171.65 157.06L169.25 160.36L166.84 157.06Z" fill="#ff0000"/><path d="M177.24 156.67L179.64 159.97L177.24 163.27L174.84 159.97Z" fill="#ff0000"/><path d="M185.23 160.95L187.63 164.25L185.23 167.55L182.83 164.25Z" fill="#ff0000"/><path d="M193.22 164.14L195.62 167.44L193.22 170.74L190.82 167.44Z" fill="#ff0000"/><path d="M201.21 167.61L203.61 170.91L201.21 174.21L198.81 170.91Z" fill="#ff0000"/><path d="M209.19 170.8L211.59 174.1L209.19 177.4L206.79 174.1Z" fill="#ff0000"/><path d="M217.19 174.77L219.59 178.07L217.19 181.37L214.79 178.07Z" fill="#ff0000"/><path d="M225.18 177.56L227.58 180.86L225.18 184.16L222.78 180.86Z" fill="#ff0000"/><path d="M233.17 181.05L235.57 184.35L233.17 187.65L230.77 184.35Z" fill="#ff0000"/><path d="M241.16 185.53L243.56 188.83L241.16 192.13L238.76 188.83Z" fill="#ff0000"/><path d="M249.15 187.81L251.55 191.11L249.15 194.41L246.75 191.11Z" fill="#ff0000"/><path d="M257.14 191L259.54 194.3L257.14 197.6L254.74 194.3Z" fill="#ff0000"/><path d="M265.12 194.97L267.52 198.27L265.12 201.57L262.73 198.27Z" fill="#ff0000"/><path d="M277.11 198.7L279.51 202L277.11 205.3L274.71 202Z" fill="#ff0000"/><path d="M293.09 208.74L295.49 212.04L293.09 215.34L290.69 212.04Z" fill="#ff0000"/><path d="M309.07 218.6L311.47 221.9L309.07 225.2L306.67 221.9Z" fill="#ff0000"/><path d="M325.05 222.28L327.45 225.58L325.05 228.88L322.65 225.58Z" fill="#ff0000"/><path d="M341.03 230.21L343.43 233.51L341.03 236.81L338.63 233.51Z" fill="#ff0000"/><path d="M357.01 212.87L359.41 216.17L357.01 219.47L354.61 216.17Z" fill="#ff0000"/>
</g>
<path d="M45.45 310.76h5.5M371.3 310.76h-5.5M45.45 304.42h5.5M371.3 304.42h-5.5M45.45 299.5h5.5M371.3 299.5h-5.5M45.45 295.48h5.5M371.3 295.48h-5.5M45.45 292.08h5.5M371.3 292.08h-5.5M45.45 289.14h5.5M371.3 289.14h-5.5M45.45 286.54h5.5M371.3 286.54h-5.5M45.45 284.22h11M371.3 284.22h-11M45.45 268.94h5.5M371.3 268.94h-5.5M45.45 260h5.5M371.3 260h-5.5M45.45 253.66h5.5M371.3 253.66h-5.5M45.45 248.74h5.5M371.3 248.74h-5.5M45.45 244.72h5.5M371.3 244.72h-5.5M45.45 241.32h5.5M371.3 241.32h-5.5M45.45 238.38h5.5M371.3 238.38h-5.5M45.45 235.78h5.5M371.3 235.78h-5.5M45.45 233.46h11M371.3 233.46h-11M45.45 218.18h5.5M371.3 218.18h-5.5M45.45 209.24h5.5M371.3 209.24h-5.5M45.45 202.9h5.5M371.3 202.9h-5.5M45.45 197.98h5.5M371.3 197.98h-5.5M45.45 193.96h5.5M371.3 193.96h-5.5M45.45 190.56h5.5M371.3 190.56h-5.5M45.45 187.62h5.5M371.3 187.62h-5.5M45.45 185.02h5.5M371.3 185.02h-5.5M45.45 182.7h11M371.3 182.7h-11M45.45 167.42h5.5M371.3 167.42h-5.5M45.45 158.48h5.5M371.3 158.48h-5.5M45.45 152.14h5.5M371.3 152.14h-5.5M45.45 147.22h5.5M371.3 147.22h-5.5M45.45 143.2h5.5M371.3 143.2h-5.5M45.45 139.8h5.5M371.3 139.8h-5.5M45.45 136.86h5.5M371.3 136.86h-5.5M45.45 134.26h5.5M371.3 134.26h-5.5M45.45 131.94h11M371.3 131.94h-11M45.45 116.66h5.5M371.3 116.66h-5.5M45.45 107.72h5.5M371.3 107.72h-5.5M45.45 101.38h5.5M371.3 101.38h-5.5M45.45 96.46h5.5M371.3 96.46h-5.5M45.45 92.44h5.5M371.3 92.44h-5.5M45.45 89.04h5.5M371.3 89.04h-5.5M45.45 86.1h5.5M371.3 86.1h-5.5M45.45 83.5h5.5M371.3 83.5h-5.5M45.45 81.18h11M371.3 81.18h-11M45.45 65.9h5.5M371.3 65.9h-5.5M45.45 56.96h5.5M371.3 56.96h-5.5M45.45 50.62h5.5M371.3 50.62h-5.5M45.45 45.7h5.5M371.3 45.7h-5.5M45.45 41.68h5.5M371.3 41.68h-5.5M45.45 38.28h5.5M371.3 38.28h-5.5M45.45 35.34h5.5M371.3 35.34h-5.5M45.45 32.74h5.5M371.3 32.74h-5.5M45.45 30.42h11M371.3 30.42h-11M45.45 458.3h7M371.3 458.3h-7M45.45 442.36h5M371.3 442.36h-5M45.45 428.88h5M371.3 428.88h-5M45.45 417.21h5M371.3 417.21h-5M45.45 406.91h5M371.3 406.91h-5M45.45 397.7h9.5M371.3 397.7h-9.5M45.45 389.37h5M371.3 389.37h-5M45.45 381.76h5M371.3 381.76h-5M45.45 374.76h5M371.3 374.76h-5M45.45 368.28h5M371.3 368.28h-5M45.45 362.25h7M371.3 362.25h-7M45.45 356.61h5M371.3 356.61h-5M45.45 351.31h5M371.3 351.31h-5M45.45 346.31h5M371.3 346.31h-5M45.45 341.59h5M371.3 341.59h-5M45.45 337.1h7M371.3 337.1h-7M45.45 332.84h5M371.3 332.84h-5M45.45 328.77h5M371.3 328.77h-5M45.45 324.88h5M371.3 324.88h-5M45.45 321.16h5M371.3 321.16h-5M61.38 17.35v2.3M61.38 317.55v-2.3M61.38 317.55v1.5M61.38 477.5v-1.5M77.36 17.35v4.6M77.36 317.55v-4.6M77.36 317.55v2.6M77.36 477.5v-2.6M93.34 17.35v2.3M93.34 317.55v-2.3M93.34 317.55v1.5M93.34 477.5v-1.5M109.32 17.35v4.6M109.32 317.55v-4.6M109.32 317.55v2.6M109.32 477.5v-2.6M125.3 17.35v2.3M125.3 317.55v-2.3M125.3 317.55v1.5M125.3 477.5v-1.5M141.28 17.35v4.6M141.28 317.55v-4.6M141.28 317.55v2.6M141.28 477.5v-2.6M157.26 17.35v2.3M157.26 317.55v-2.3M157.26 317.55v1.5M157.26 477.5v-1.5M173.24 17.35v4.6M173.24 317.55v-4.6M173.24 317.55v2.6M173.24 477.5v-2.6M189.22 17.35v2.3M189.22 317.55v-2.3M189.22 317.55v1.5M189.22 477.5v-1.5M205.2 17.35v8.3M205.2 317.55v-8.3M205.2 317.55v5M205.2 477.5v-5M221.18 17.35v2.3M221.18 317.55v-2.3M221.18 317.55v1.5M221.18 477.5v-1.5M237.16 17.35v4.6M237.16 317.55v-4.6M237.16 317.55v2.6M237.16 477.5v-2.6M253.14 17.35v2.3M253.14 317.55v-2.3M253.14 317.55v1.5M253.14 477.5v-1.5M269.12 17.35v4.6M269.12 317.55v-4.6M269.12 317.55v2.6M269.12 477.5v-2.6M285.1 17.35v2.3M285.1 317.55v-2.3M285.1 317.55v1.5M285.1 477.5v-1.5M301.08 17.35v4.6M301.08 317.55v-4.6M301.08 317.55v2.6M301.08 477.5v-2.6M317.06 17.35v2.3M317.06 317.55v-2.3M317.06 317.55v1.5M317.06 477.5v-1.5M333.04 17.35v4.6M333.04 317.55v-4.6M333.04 317.55v2.6M333.04 477.5v-2.6M349.02 17.35v2.3M349.02 317.55v-2.3M349.02 317.55v1.5M349.02 477.5v-1.5M365 17.35v8.3M365 317.55v-8.3M365 317.55v5M365 477.5v-5" stroke="#000" stroke-width="1" fill="none"/>
<path d="M45.45 17.35H371.3V477.5H45.45ZM45.45 317.55H371.3" stroke="#000" stroke-width="1.2" fill="none"/>
<text x="50.8" y="13.6" font-size="12">7000 GeV pp</text>
<text x="366.5" y="13.6" font-size="12" text-anchor="end">Soft QCD</text>
<text x="129.7" y="43.5" font-size="12">Momentum fraction z<tspan font-size="10">(track jets)</tspan></text>
<text x="40.6" y="35.82" font-size="11" text-anchor="end">10<tspan dy="-5.2" font-size="7.5">3</tspan></text>
<text x="40.6" y="86.58" font-size="11" text-anchor="end">10<tspan dy="-5.2" font-size="7.5">2</tspan></text>
<text x="40.6" y="135.74" font-size="11" text-anchor="end">10</text>
<text x="40.6" y="186.5" font-size="11" text-anchor="end">1</text>
<text x="40.6" y="238.86" font-size="11" text-anchor="end">10<tspan dy="-5" font-size="6.2">&#8722;</tspan><tspan font-size="7.5">1</tspan></text>
<text x="40.6" y="289.62" font-size="11" text-anchor="end">10<tspan dy="-5" font-size="6.2">&#8722;</tspan><tspan font-size="7.5">2</tspan></text>
<text x="38.8" y="341.3" font-size="12" text-anchor="end">2</text>
<text x="373.5" y="341.3" font-size="12">2</text>
<text x="38.8" y="401.9" font-size="12" text-anchor="end">1</text>
<text x="373.5" y="401.9" font-size="12">1</text>
<text x="38.8" y="462.5" font-size="12" text-anchor="end">0.5</text>
<text x="373.5" y="462.5" font-size="12">0.5</text>
<text x="46" y="489.2" font-size="12" text-anchor="middle">0</text>
<text x="205.2" y="489.2" font-size="12" text-anchor="middle">0.5</text>
<text x="366.3" y="489.2" font-size="12" text-anchor="middle">1</text>
<text x="372.8" y="503.6" font-size="12.45" text-anchor="end">Charged Particle z</text>
<text transform="translate(15.8,88.1) rotate(-90)" font-size="12">(1/Njet)dN/dz</text>
<text transform="translate(18.9,396.8) rotate(-90)" font-size="9.1" text-anchor="middle">Ratio to ATLAS</text>
<text transform="translate(380.2,132) rotate(-90)" font-size="9.3" fill="#808080">Rivet 3.1.10, &#8805; 400k events</text>
<text transform="translate(380.6,313.4) rotate(-90)" font-size="9.35" fill="#808080">mcplots.cern.ch [arXiv:1306.3436]</text>
<text x="168" y="302.2" font-size="7.9" fill="#999">ATLAS_2011_I919017</text>
<text x="94.5" y="226.9" font-size="9.3">ATLAS</text>
<rect x="73.6" y="221" width="5.6" height="5.6" fill="#000"/>
<text x="94.5" y="239.9" font-size="9.3">Herwig++ 2.7.1 default</text>
<line x1="63.8" y1="236.8" x2="89" y2="236.8" stroke="#b35900" stroke-width="1.2" stroke-dasharray="2.6 2.2"/>
<circle cx="76.4" cy="236.8" r="2.6" fill="none" stroke="#b35900" stroke-width="1.1"/>
<text x="94.5" y="252.9" font-size="9.3">Herwig 7.2.1 default</text>
<line x1="63.8" y1="249.8" x2="89" y2="249.8" stroke="#339900" stroke-width="1.2" stroke-dasharray="2.6 2.2"/>
<rect x="73.7" y="247.1" width="5.4" height="5.4" fill="none" stroke="#339900" stroke-width="1.25"/>
<text x="94.5" y="265.9" font-size="9.3">Pythia 8.212 default</text>
<line x1="63.8" y1="262.8" x2="89" y2="262.8" stroke="#0000ff" stroke-width="1.3"/>
<path d="M76.4 259.7L79.5 265.1L73.3 265.1Z" fill="#0000ff"/>
<text x="94.5" y="278.9" font-size="9.3">Sherpa 2.2.9 default</text>
<line x1="63.8" y1="275.8" x2="89" y2="275.8" stroke="#ff0000" stroke-width="1.2" stroke-dasharray="1.1 1"/>
<path d="M76.4 272.5L78.8 275.8L76.4 279.1L74 275.8Z" fill="#ff0000"/>
</svg></body></html>
